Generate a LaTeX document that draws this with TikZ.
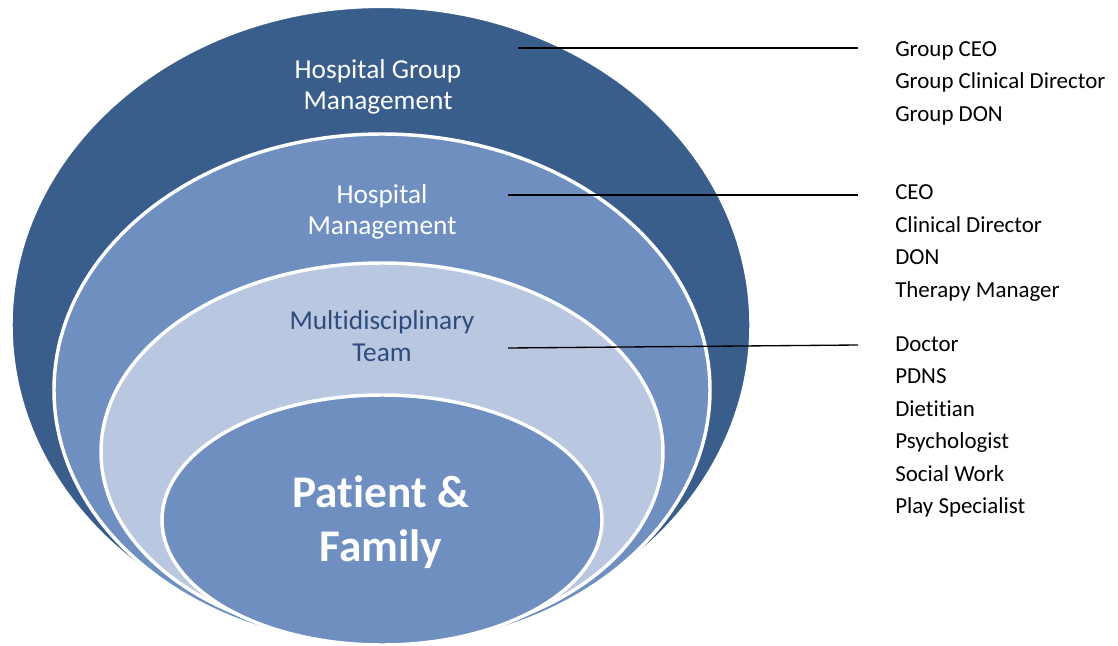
\documentclass[tikz,border=0pt]{standalone}
\usepackage{fontspec}
\setmainfont{Carlito}[Ligatures=NoCommon]
\definecolor{darkband}{HTML}{3A5E8B}
\definecolor{midband}{HTML}{6E8FC0}
\definecolor{lightband}{HTML}{B9C7E0}
\definecolor{teamtext}{HTML}{2E4D7E}
\tikzset{
  band/.style={draw=white, line width=2.6pt},
  ringlabel/.style={align=center, font=\fontsize{20.5}{23.6}\selectfont, text=white, inner sep=0pt},
  listlabel/.style={anchor=west, align=left, font=\fontsize{17.2}{24.4}\selectfont, inner sep=0pt},
  leader/.style={black, line width=1pt}
}
\begin{document}
\begin{tikzpicture}[x=0.75pt,y=-0.75pt]
\useasboundingbox (0,0) rectangle (1118,646);
\clip (0,0) rectangle (1118,646);
% bands
\filldraw[band, fill=darkband] (381,325) ellipse [x radius=277.5pt, y radius=239pt];
\filldraw[band, fill=midband] (382,390) ellipse [x radius=246pt, y radius=192pt];
\filldraw[band, fill=lightband] (382,452) ellipse [x radius=210.75pt, y radius=141.75pt];
\filldraw[band, fill=midband] (382,520) ellipse [x radius=165pt, y radius=93.75pt];
% ring labels
\node[ringlabel] (hgm) at (378,87) {Hospital Group\\Management};
\node[ringlabel] (hm) at (382,212) {Hospital\\Management};
\node[ringlabel, text=teamtext] (mdt) at (382,336) {Multidisciplinary\\Team};
\node[ringlabel, font=\bfseries\fontsize{34}{40}\selectfont] (pf) at (381,522) {Patient \&\\Family};
% lists
\node[listlabel] (l1) at (895,83) {Group CEO\\Group Clinical Director\\Group DON};
\node[listlabel] (l2) at (895,243) {CEO\\Clinical Director\\DON\\Therapy Manager};
\node[listlabel] (l3) at (895,427) {Doctor\\PDNS\\Dietitian\\Psychologist\\Social Work\\Play Specialist};
% leader lines
\coordinate (s1) at (518,48);
\coordinate (e1) at (858,48);
\coordinate (s2) at (508,195);
\coordinate (e2) at (858,195);
\coordinate (s3) at (508,348);
\coordinate (e3) at (858,345);
\draw[leader] (s1) -- (e1);
\draw[leader] (s2) -- (e2);
\draw[leader] (s3) -- (e3);
\end{tikzpicture}
\end{document}
